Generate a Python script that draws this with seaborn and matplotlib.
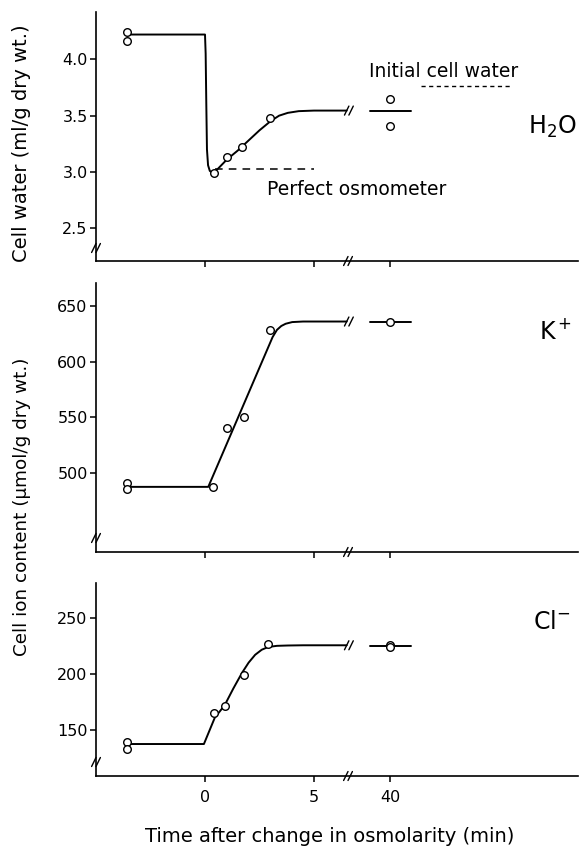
import numpy as np
import pandas as pd
import matplotlib
matplotlib.use("Agg")
import matplotlib.pyplot as plt
from matplotlib.lines import Line2D
import seaborn as sns

# ---------------- data ----------------
x_tick_minutes = [0, 5, 40]
x_tick_labels = ["0", "5", "40"]

# H2O panel
h2o_pts_t = [-3.6, -3.6, 0.4, 1.0, 1.7, 3.0, 40, 40]
h2o_pts_v = [4.24, 4.16, 2.99, 3.13, 3.22, 3.48, 3.65, 3.41]
h2o_curve_t = [-3.6, 0.0, 0.03, 0.06, 0.09, 0.14, 0.22, 0.35, 0.6, 1.0, 1.5,
               2.0, 2.5, 3.0, 3.4, 3.8, 4.3, 5.0, 6.5]
h2o_curve_v = [4.22, 4.22, 4.05, 3.6, 3.2, 3.06, 3.01, 2.99, 3.03, 3.11, 3.19,
               3.28, 3.37, 3.45, 3.5, 3.525, 3.54, 3.545, 3.545]
h2o_late_t = [39, 41]
h2o_late_v = [3.54, 3.54]
perfect_osmometer_t = [0.45, 5.0]
perfect_osmometer_v = [3.03, 3.03]
initial_cell_water_v = 3.76

# K+ panel
k_pts_t = [-3.6, -3.6, 0.35, 1.0, 1.8, 3.0, 40]
k_pts_v = [491, 486, 487.5, 540, 550, 628, 636]
k_curve_t = [-3.6, 0.15, 3.1, 3.3, 3.5, 3.7, 4.0, 4.5, 6.5]
k_curve_v = [487.5, 487.5, 622, 628.5, 632, 634, 635.5, 636, 636]
k_late_t = [39, 41]
k_late_v = [636, 636]

# Cl- panel
cl_pts_t = [-3.6, -3.6, 0.4, 0.9, 1.8, 2.9, 40, 40]
cl_pts_v = [139, 133, 165, 171, 199, 227, 226, 224]
cl_curve_t = [-3.6, -0.05, 0.45, 0.9, 1.3, 1.7, 2.0, 2.3, 2.6, 2.9, 3.3,
              3.8, 4.5, 6.5]
cl_curve_v = [137.5, 137.5, 161, 172, 187, 201, 210, 217, 221.5, 224, 225,
              225.3, 225.5, 225.5]
cl_late_t = [39, 41]
cl_late_v = [225, 225]

# ---------------- helpers ----------------
def to_pos(t):
    """Broken time axis: linear up to the break, compressed segment around 40 min."""
    t = np.asarray(t, dtype=float)
    return np.where(t < 20, t, 8.5 + (t - 40) * 0.95)

BREAK_POS = 6.56
XLIM = (-5.0, 17.11)

sns.set_style("ticks")
plt.rcParams['font.family'] = ['DejaVu Sans']
plt.rcParams['text.color'] = 'black'
plt.rcParams['axes.labelcolor'] = 'black'
plt.rcParams['xtick.color'] = 'black'
plt.rcParams['ytick.color'] = 'black'

fig = plt.figure(figsize=(5.79, 8.46), dpi=100)
W = 579.0
H = 846.0

def axes_px(left, top, right, bottom):
    return fig.add_axes([left / W, 1 - bottom / H, (right - left) / W, (bottom - top) / H])

ax1 = axes_px(96, 12, 578, 261)
ax2 = axes_px(96, 283, 578, 552)
ax3 = axes_px(96, 583, 578, 776)

LW = 1.4
MK = dict(s=30, facecolor="white", edgecolor="black", linewidth=1.0, zorder=5)

panels = [
    (ax1, h2o_curve_t, h2o_curve_v, h2o_pts_t, h2o_pts_v, h2o_late_t, h2o_late_v,
     (2.21, 4.42), [2.5, 3.0, 3.5, 4.0], ["2.5", "3.0", "3.5", "4.0"]),
    (ax2, k_curve_t, k_curve_v, k_pts_t, k_pts_v, k_late_t, k_late_v,
     (429, 670.6), [500, 550, 600, 650], ["500", "550", "600", "650"]),
    (ax3, cl_curve_t, cl_curve_v, cl_pts_t, cl_pts_v, cl_late_t, cl_late_v,
     (109, 281), [150, 200, 250], ["150", "200", "250"]),
]

# perfect osmometer (dashed) in top panel
dfo = pd.DataFrame({"x": to_pos(perfect_osmometer_t), "y": perfect_osmometer_v})
sns.lineplot(data=dfo, x="x", y="y", ax=ax1, color="black", lw=1.1,
             estimator=None, sort=False, linestyle=(0, (5, 4)))

for ax, ct, cv, pt, pv, lt, lv, ylim, yt, ytl in panels:
    dfc = pd.DataFrame({"x": to_pos(ct), "y": cv})
    sns.lineplot(data=dfc, x="x", y="y", ax=ax, color="black", lw=LW,
                 estimator=None, sort=False)
    dfl = pd.DataFrame({"x": to_pos(lt), "y": lv})
    sns.lineplot(data=dfl, x="x", y="y", ax=ax, color="black", lw=LW,
                 estimator=None, sort=False)
    dfp = pd.DataFrame({"x": to_pos(pt), "y": pv})
    sns.scatterplot(data=dfp, x="x", y="y", ax=ax, **MK)
    ax.set_xlim(*XLIM)
    ax.set_ylim(*ylim)
    ax.set_yticks(yt)
    ax.set_yticklabels(ytl, fontsize=11.5)
    ax.set_xticks(to_pos(x_tick_minutes))
    ax.set_xlabel("")
    ax.set_ylabel("")
    for s in ["top", "right"]:
        ax.spines[s].set_visible(False)
    for s in ["left", "bottom"]:
        ax.spines[s].set_linewidth(1.2)
        ax.spines[s].set_color("black")
    ax.tick_params(direction="out", length=4, width=1.1, colors="black", pad=2)

ax1.set_xticklabels([])
ax2.set_xticklabels([])
ax3.set_xticklabels(x_tick_labels, fontsize=11.5)
ax3.tick_params(axis="x", pad=6)

ax1.plot([9.9, 14.1], [initial_cell_water_v] * 2, color="black", lw=1.0,
         linestyle=(0, (3, 2.5)))
ax1.text(6.95, 2.845, "Perfect osmometer", fontsize=13.5, ha="center", va="center")
ax1.text(10.95, 3.895, "Initial cell water", fontsize=13.5, ha="center", va="center")

# ion labels
ax1.text(15.95, 3.40, "H$_2$O", fontsize=17, ha="center", va="center")
ax2.text(16.1, 627, "K$^+$", fontsize=17, ha="center", va="center")
ax3.text(15.9, 246, "Cl$^{-}$", fontsize=17, ha="center", va="center")

# axis labels
fig.text(22 / W, 1 - 143 / H, "Cell water (ml/g dry wt.)", rotation=90,
         fontsize=14, ha="center", va="center")
fig.text(22 / W, 1 - 507 / H, "Cell ion content (\u00b5mol/g dry wt.)", rotation=90,
         fontsize=13.2, ha="center", va="center")
fig.text(330 / W, 1 - 836 / H, "Time after change in osmolarity (min)",
         fontsize=14, ha="center", va="center")

# break marks (drawn in pixel offsets around anchor points)
def brk(ax, x, y, transform):
    cx, cy = transform.transform((x, y))
    for dx in (-2.2, 2.2):
        line = Line2D([cx + dx - 2.2, cx + dx + 2.2], [cy - 4.5, cy + 4.5],
                      color="black", lw=1.0, transform=None, zorder=10)
        fig.add_artist(line)

fig.canvas.draw()
for ax, frac, yplat in [(ax1, 13 / 249, 3.545), (ax2, 14 / 269, 636), (ax3, 14 / 193, 225.5)]:
    brk(ax, 0.0, frac, ax.transAxes)
    xb = (BREAK_POS - XLIM[0]) / (XLIM[1] - XLIM[0])
    brk(ax, xb, 0.0, ax.transAxes)
    brk(ax, 6.6, yplat, ax.transData)

fig.savefig("out.png", dpi=100)
